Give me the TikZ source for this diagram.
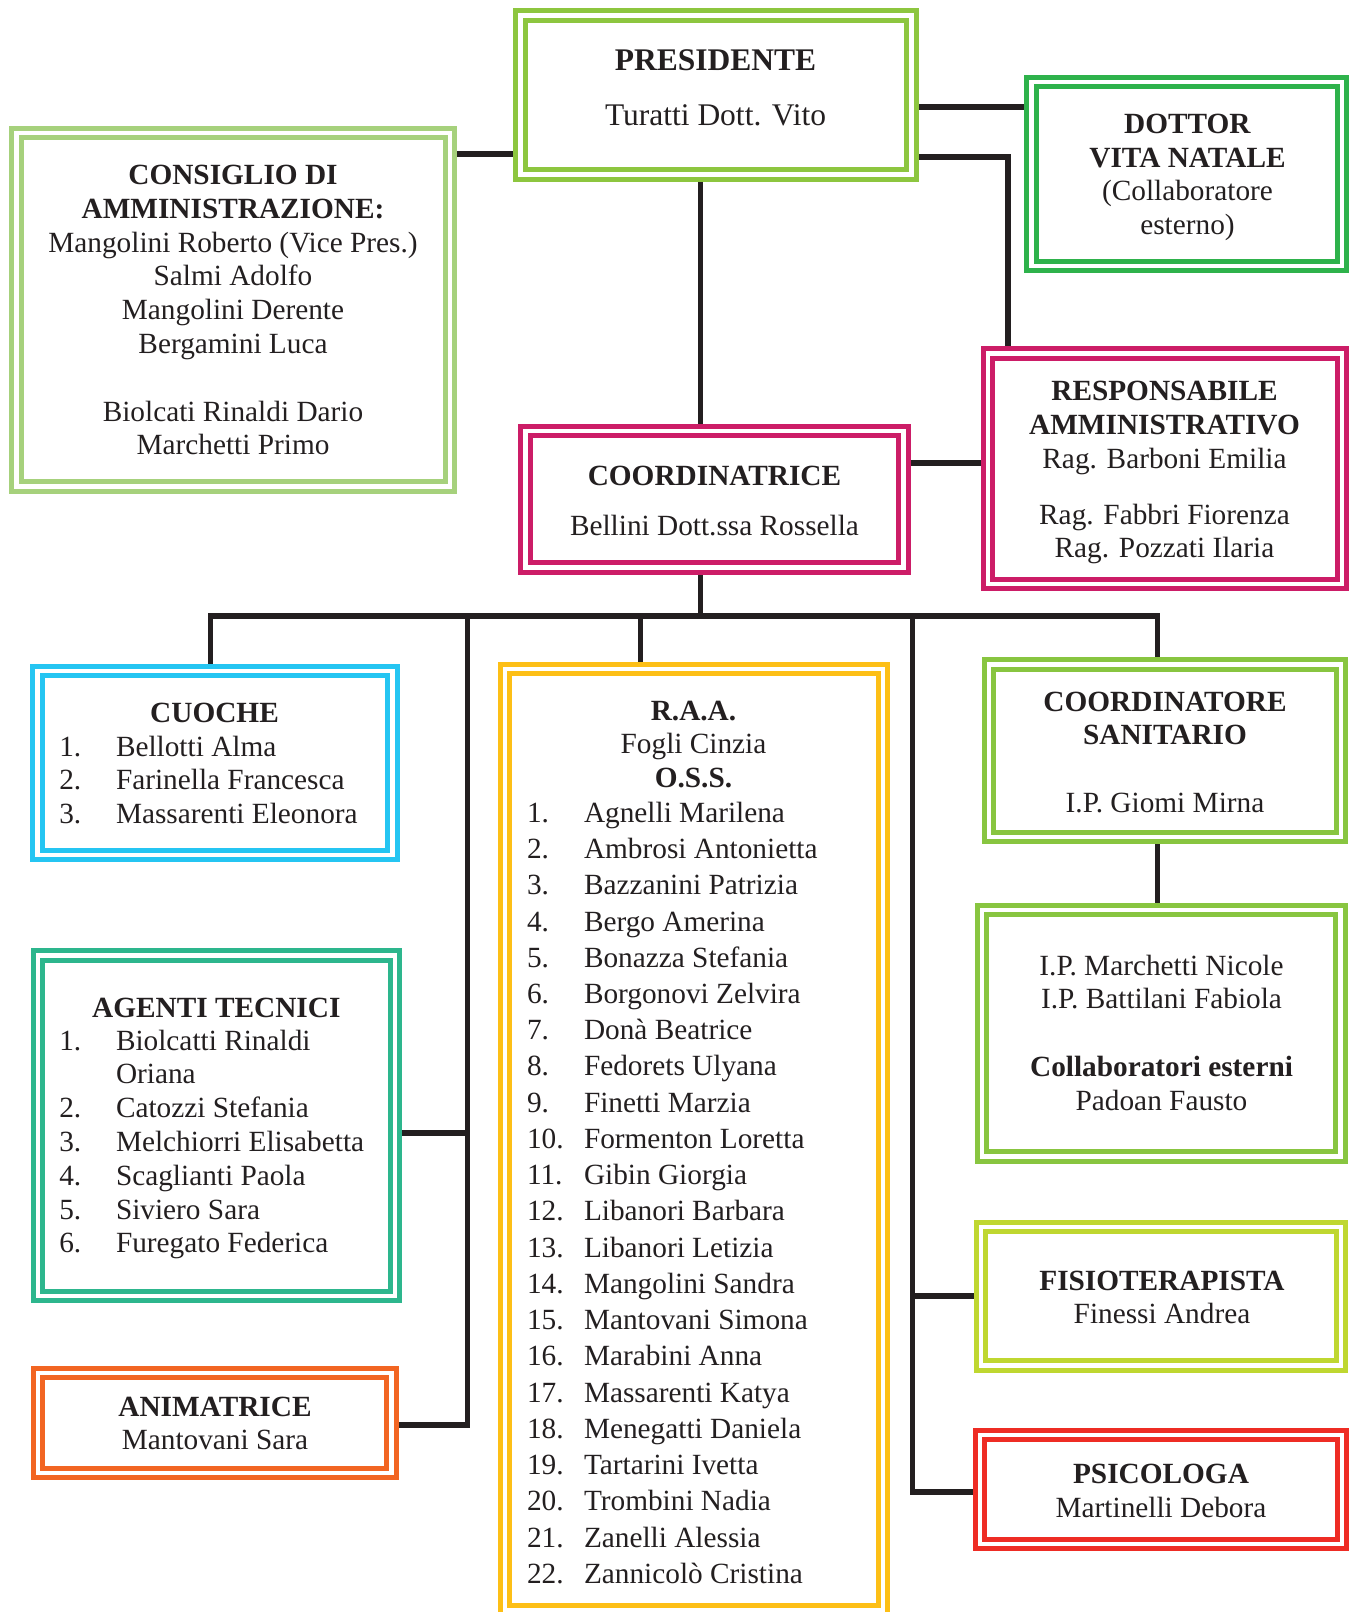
\documentclass[tikz,border=0pt]{standalone}
\usepackage{fontspec}
\setmainfont{Liberation Serif}
\usetikzlibrary{backgrounds}
\definecolor{ink}{HTML}{231F20}
\definecolor{cPres}{HTML}{8DC63F}
\definecolor{cCons}{HTML}{A6D17C}
\definecolor{cDott}{HTML}{2EB24B}
\definecolor{cMag}{HTML}{CC1D67}
\definecolor{cCuo}{HTML}{25C5F2}
\definecolor{cRaa}{HTML}{FDBF16}
\definecolor{cSan}{HTML}{88C540}
\definecolor{cAgt}{HTML}{2DB68D}
\definecolor{cAnim}{HTML}{F26522}
\definecolor{cFis}{HTML}{BFD730}
\definecolor{cPsi}{HTML}{EE2C24}
\newcommand{\fsN}{\fontsize{29.3}{33.8}\selectfont}
\newcommand{\fsP}{\fontsize{31.5}{36}\selectfont}
\newcommand{\fsL}{\fontsize{29.3}{36.24}\selectfont}
\tikzset{
  box/.style={rectangle, draw=#1, double=white, double distance=4.5pt, line width=5pt, fill=white, inner sep=0pt, outer sep=0pt},
  conn/.style={draw=ink, line width=5.5pt},
  txt/.style={inner sep=0pt, outer sep=0pt, text=ink, font=\fsN},
}
\begin{document}
\begin{tikzpicture}[x=1pt,y=-1pt]
\useasboundingbox (0,0) rectangle (1353,1612);
\clip (0,0) rectangle (1353,1612);

% boxes
\node[box=cPres, minimum width=391pt, minimum height=159pt] (pres) at (716,95) {};
\node[box=cCons, minimum width=433.5pt, minimum height=353.5pt] (cons) at (233.25,309.75) {};
\node[box=cDott, minimum width=310.5pt, minimum height=184pt] (dott) at (1186.75,174) {};
\node[box=cMag, minimum width=354pt, minimum height=230.5pt] (resp) at (1165,468.75) {};
\node[box=cMag, minimum width=378pt, minimum height=136.5pt] (coord) at (714.5,499.25) {};
\node[box=cCuo, minimum width=355pt, minimum height=184pt] (cuo) at (215,763) {};
\node[box=cAgt, minimum width=357pt, minimum height=340.5pt] (agt) at (216.5,1125.75) {};
\node[box=cAnim, minimum width=353.5pt, minimum height=100pt] (anim) at (214.75,1423) {};
\node[box=cRaa, minimum width=378pt, minimum height=941pt] (raa) at (694,1139.5) {};
\node[box=cSan, minimum width=352pt, minimum height=172.5pt] (cs) at (1165,750.75) {};
\node[box=cSan, minimum width=358.5pt, minimum height=246.5pt] (cs2) at (1161.25,1033.25) {};
\node[box=cFis, minimum width=360pt, minimum height=138.5pt] (fis) at (1161,1296.25) {};
\node[box=cPsi, minimum width=362pt, minimum height=109pt] (psi) at (1161,1489.5) {};

% helper coordinates
\coordinate (x700) at (700.5,0);
\coordinate (x1008) at (1008,0);
\coordinate (x210) at (210.5,0);
\coordinate (x640) at (640.5,0);
\coordinate (x467) at (467.5,0);
\coordinate (x912) at (912.5,0);
\coordinate (x1157) at (1157.5,0);
\coordinate (y107) at (0,107);
\coordinate (y154) at (0,154);
\coordinate (y157) at (0,157);
\coordinate (y463) at (0,463);
\coordinate (ybus) at (0,616);
\coordinate (y1133) at (0,1133);
\coordinate (y1425) at (0,1425);
\coordinate (y1296) at (0,1296);
\coordinate (y1492) at (0,1492);

% connectors
\begin{pgfonlayer}{background}
\draw[conn] (cons.east |- y154) -- (pres.west |- y154);
\draw[conn] (pres.east |- y107) -- (dott.west |- y107);
\draw[conn] (pres.east |- y157) -| (x1008 |- resp.north);
\draw[conn] (x700 |- pres.south) -- (x700 |- coord.north);
\draw[conn] (coord.east |- y463) -- (resp.west |- y463);
\draw[conn] (x700 |- coord.south) -- (x700 |- ybus);
\draw[conn] (x210 |- cuo.north) -- (x210 |- ybus) -- (x1157 |- ybus) -- (x1157 |- cs.north);
\draw[conn] (x640 |- ybus) -- (x640 |- raa.north);
\draw[conn] (x467 |- ybus) -- (x467 |- y1425) -- (anim.east |- y1425);
\draw[conn] (agt.east |- y1133) -- (x467 |- y1133);
\draw[conn] (x912 |- ybus) -- (x912 |- y1492) -- (psi.west |- y1492);
\draw[conn] (x912 |- y1296) -- (fis.west |- y1296);
\draw[conn] (x1157 |- cs.south) -- (x1157 |- cs2.north);
\end{pgfonlayer}

% texts
\node[txt, anchor=base, font=\fsP] (pres-t) at (715.5,70.7) {\begin{tabular}[t]{@{}c@{}}\textbf{PRESIDENTE}\\[18.3pt] Turatti Dott. Vito\end{tabular}};

\node[txt, anchor=base] (cons-t) at (233,184.5) {\begin{tabular}[t]{@{}c@{}}\textbf{CONSIGLIO DI}\\ \textbf{AMMINISTRAZIONE:}\\ Mangolini Roberto (Vice Pres.)\\ Salmi Adolfo\\ Mangolini Derente\\ Bergamini Luca\\ \\ Biolcati Rinaldi Dario\\ Marchetti Primo\end{tabular}};

\node[txt, anchor=base] (dott-t) at (1187.5,133.3) {\begin{tabular}[t]{@{}c@{}}\textbf{DOTTOR}\\ \textbf{VITA NATALE}\\ (Collaboratore\\ esterno)\end{tabular}};

\node[txt, anchor=base] (resp-t) at (1164.5,400.7) {\begin{tabular}[t]{@{}c@{}}\textbf{RESPONSABILE}\\ \textbf{AMMINISTRATIVO}\\ Rag. Barboni Emilia\\[22pt] Rag. Fabbri Fiorenza\\ Rag. Pozzati Ilaria\end{tabular}};

\node[txt, anchor=base] (coord-t) at (714.5,485) {\begin{tabular}[t]{@{}c@{}}\textbf{COORDINATRICE}\\[16.7pt] Bellini Dott.ssa Rossella\end{tabular}};

\node[txt, anchor=base] (cuo-t) at (214.5,722.7) {\textbf{CUOCHE}};
\node[txt, anchor=base west] (cuo-n) at (59.3,756) {\begin{tabular}[t]{@{}l@{}}1.\\ 2.\\ 3.\end{tabular}};
\node[txt, anchor=base west] (cuo-l) at (116,756) {\begin{tabular}[t]{@{}l@{}}Bellotti Alma\\ Farinella Francesca\\ Massarenti Eleonora\end{tabular}};

\node[txt, anchor=base] (agt-t) at (216.3,1017) {\textbf{AGENTI TECNICI}};
\node[txt, anchor=base west] (agt-n) at (59.3,1050) {\begin{tabular}[t]{@{}l@{}}1.\\ \\ 2.\\ 3.\\ 4.\\ 5.\\ 6.\end{tabular}};
\node[txt, anchor=base west] (agt-l) at (116,1050) {\begin{tabular}[t]{@{}l@{}}Biolcatti Rinaldi\\ Oriana\\ Catozzi Stefania\\ Melchiorri Elisabetta\\ Scaglianti Paola\\ Siviero Sara\\ Furegato Federica\end{tabular}};

\node[txt, anchor=base] (anim-t) at (215,1416) {\begin{tabular}[t]{@{}c@{}}\textbf{ANIMATRICE}\\ Mantovani Sara\end{tabular}};

\node[txt, anchor=base] (raa-t) at (693.5,720) {\begin{tabular}[t]{@{}c@{}}\textbf{R.A.A.}\\ Fogli Cinzia\\ \textbf{O.S.S.}\end{tabular}};
\node[txt, anchor=base west, font=\fsL] (raa-n) at (527,822.3) {\begin{tabular}[t]{@{}l@{}}1.\\ 2.\\ 3.\\ 4.\\ 5.\\ 6.\\ 7.\\ 8.\\ 9.\\ 10.\\ 11.\\ 12.\\ 13.\\ 14.\\ 15.\\ 16.\\ 17.\\ 18.\\ 19.\\ 20.\\ 21.\\ 22.\end{tabular}};
\node[txt, anchor=base west, font=\fsL] (raa-l) at (584,822.3) {\begin{tabular}[t]{@{}l@{}}Agnelli Marilena\\ Ambrosi Antonietta\\ Bazzanini Patrizia\\ Bergo Amerina\\ Bonazza Stefania\\ Borgonovi Zelvira\\ Donà Beatrice\\ Fedorets Ulyana\\ Finetti Marzia\\ Formenton Loretta\\ Gibin Giorgia\\ Libanori Barbara\\ Libanori Letizia\\ Mangolini Sandra\\ Mantovani Simona\\ Marabini Anna\\ Massarenti Katya\\ Menegatti Daniela\\ Tartarini Ivetta\\ Trombini Nadia\\ Zanelli Alessia\\ Zannicolò Cristina\end{tabular}};

\node[txt, anchor=base] (cs-t) at (1165,711) {\begin{tabular}[t]{@{}c@{}}\textbf{COORDINATORE}\\ \textbf{SANITARIO}\\ \\ I.P. Giomi Mirna\end{tabular}};

\node[txt, anchor=base] (cs2-t) at (1161.5,975) {\begin{tabular}[t]{@{}c@{}}I.P. Marchetti Nicole\\ I.P. Battilani Fabiola\\ \\ \textbf{Collaboratori esterni}\\ Padoan Fausto\end{tabular}};

\node[txt, anchor=base] (fis-t) at (1162,1290) {\begin{tabular}[t]{@{}c@{}}\textbf{FISIOTERAPISTA}\\ Finessi Andrea\end{tabular}};

\node[txt, anchor=base] (psi-t) at (1161,1483.3) {\begin{tabular}[t]{@{}c@{}}\textbf{PSICOLOGA}\\ Martinelli Debora\end{tabular}};
\end{tikzpicture}
\end{document}
